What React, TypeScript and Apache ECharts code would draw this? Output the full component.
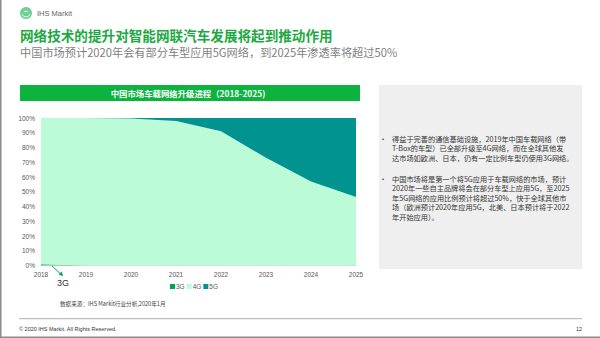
import React, { useEffect, useRef } from "react";
import * as echarts from "echarts";

const years = ["2018", "2019", "2020", "2021", "2022", "2023", "2024", "2025"];
const share3G = [0.8, 0, 0, 0, 0, 0, 0, 0];
const share4G = [99.2, 100, 99.6, 98, 91, 73, 57, 46.5];
const share5G = [0, 0, 0.4, 2, 9, 27, 43, 53.5];
const seriesNames = ["3G", "4G", "5G"];
const seriesColors = ["#00a651", "#bbfbd8", "#009390"];

const titleText = "网络技术的提升对智能网联汽车发展将起到推动作用";
const subtitleText = "中国市场预计2020年会有部分车型应用5G网络，到2025年渗透率将超过50%";
const chartTitle = "中国市场车载网络升级进程（2018-2025)";
const bullet1 = [
  "得益于完善的通信基础设施，2019年中国车载网络（带",
  "T-Box的车型）已全部升级至4G网络，而在全球其他发",
  "达市场如欧洲、日本，仍有一定比例车型仍使用3G网络。",
];
const bullet2 = [
  "中国市场将是第一个将5G应用于车载网络的市场，预计",
  "2020年一些自主品牌将会在部分车型上应用5G，至2025",
  "年5G网络的应用比例预计将超过50%，快于全球其他市",
  "场（欧洲预计2020年应用5G，北美、日本预计将于2022",
  "年开始应用）。",
];
const sourceText = "数据来源：IHS Markit行业分析,2020年1月";
const footerText = "© 2020 IHS Markit. All Rights Reserved.";
const pageNo = "12";

const CJK = "'Noto Sans CJK SC', 'Noto Sans', sans-serif";
const LAT = "'Liberation Sans', Arial, sans-serif";

export default function App() {
  const ref = useRef<HTMLDivElement>(null);
  useEffect(() => {
    if (!ref.current) return;
    const chart = echarts.init(ref.current, null, { renderer: "svg" });
    const data = [share3G, share4G, share5G];

    const textEl = (x: number, y: number, text: string, style: any) => ({
      type: "text",
      x,
      y,
      silent: true,
      style: { text, textVerticalAlign: "middle", ...style },
    });

    const lineStep = 9.6;
    const blockText = (lines: string[], yFirst: number) => ({
      type: "text",
      x: 392,
      y: yFirst - lineStep / 2,
      silent: true,
      style: {
        text: lines.join("\n"),
        fill: "#333",
        fontSize: 7.2,
        lineHeight: lineStep,
        fontFamily: CJK,
        textVerticalAlign: "top",
      },
    });

    chart.setOption({
      animation: false,
      backgroundColor: "#ffffff",
      grid: { left: 41, right: 244, top: 118, bottom: 72.5, containLabel: false },
      legend: {
        data: seriesNames,
        left: 170,
        top: 283,
        icon: "rect",
        itemWidth: 5,
        itemHeight: 5,
        itemGap: 2,
        padding: 0,
        textStyle: { fontSize: 6.5, color: "#595959", fontFamily: LAT, padding: [0, 0, 0, -4] },
      },
      xAxis: {
        type: "category",
        data: years,
        boundaryGap: false,
        axisLine: { show: true, lineStyle: { color: "#d9d9d9" } },
        axisTick: { show: false },
        axisLabel: { color: "#595959", fontSize: 6.5, fontFamily: LAT, margin: 5 },
      },
      yAxis: {
        type: "value",
        min: 0,
        max: 100,
        interval: 10,
        axisLine: { show: false },
        axisTick: { show: false },
        splitLine: { show: false },
        axisLabel: { color: "#595959", fontSize: 6.5, fontFamily: LAT, margin: 6, formatter: "{value}%" },
      },
      series: seriesNames.map((name, i) => ({
        name,
        type: "line",
        stack: "total",
        data: data[i],
        showSymbol: false,
        symbol: "none",
        lineStyle: { width: 0, color: seriesColors[i] },
        itemStyle: { color: seriesColors[i] },
        areaStyle: { color: seriesColors[i], opacity: 1 },
        z: 2,
      })),
      graphic: {
        elements: [
          // frame borders
          { type: "rect", shape: { x: 0, y: 0, width: 1.5, height: 338 }, style: { fill: "#8c8c8c" }, silent: true },
          { type: "rect", shape: { x: 0, y: 336.5, width: 600, height: 1.5 }, style: { fill: "#8c8c8c" }, silent: true },
          // logo
          { type: "circle", shape: { cx: 26, cy: 13, r: 6 }, style: { fill: "#6fcf97" }, silent: true },
          { type: "arc", shape: { cx: 26, cy: 13, r: 4, startAngle: 0.3, endAngle: 2.8 }, style: { stroke: "#ffffff", lineWidth: 0.8, fill: "none" }, silent: true },
          { type: "arc", shape: { cx: 26, cy: 13, r: 2, startAngle: 3.5, endAngle: 6 }, style: { stroke: "#ffffff", lineWidth: 0.8, fill: "none" }, silent: true },
          textEl(37, 13, "IHS Markit", { fill: "#666", fontSize: 7.5, fontFamily: LAT }),
          // titles
          textEl(20, 35, titleText, { fill: "#1ba941", fontSize: 13.6, fontWeight: "bold", fontFamily: CJK }),
          textEl(20, 52, subtitleText, { fill: "#7f7f7f", fontSize: 11.2, fontFamily: CJK }),
          // chart title bar
          { type: "rect", shape: { x: 20, y: 85, width: 340, height: 16 }, style: { fill: "#0cb33f" }, silent: true },
          textEl(188, 93, chartTitle, { fill: "#ffffff", fontSize: 8.4, fontWeight: "bold", fontFamily: CJK, textAlign: "center" }),
          // area labels
          textEl(197, 195, "4G", { fill: "#222", fontSize: 11, fontFamily: LAT, textAlign: "center" }),
          textEl(316, 142, "5G", { fill: "#ffffff", fontSize: 11, fontFamily: LAT, textAlign: "center" }),
          // 3G callout
          { type: "line", shape: { x1: 51.5, y1: 265.5, x2: 61, y2: 274.3 }, style: { stroke: "#00a651", lineWidth: 1 }, silent: true },
          { type: "polygon", shape: { points: [[63.2, 276.3], [58.6, 274.6], [61.6, 271.5]] }, style: { fill: "#00a651" }, silent: true },
          textEl(63, 283, "3G", { fill: "#333", fontSize: 9, fontFamily: LAT, textAlign: "center" }),
          // source
          textEl(60, 303.5, sourceText, { fill: "#444", fontSize: 5.6, fontFamily: CJK }),
          // right box
          { type: "rect", shape: { x: 379, y: 85, width: 203, height: 184 }, style: { fill: "#efefef" }, silent: true },
          blockText(bullet1, 138.5),
          blockText(bullet2, 178.5),
          textEl(382, 138.5, "•", { fill: "#333", fontSize: 6, fontFamily: LAT }),
          textEl(382, 178.5, "•", { fill: "#333", fontSize: 6, fontFamily: LAT }),
          // footer
          { type: "line", shape: { x1: 19, y1: 318.7, x2: 582, y2: 318.7 }, style: { stroke: "#b0b0b0", lineWidth: 1 }, silent: true },
          textEl(19, 329, footerText, { fill: "#333", fontSize: 5.5, fontFamily: LAT }),
          textEl(582, 329, pageNo, { fill: "#333", fontSize: 5.5, fontFamily: LAT, textAlign: "right" }),
        ],
      },
    });
    return () => chart.dispose();
  }, []);
  return <div ref={ref} style={{ position: "absolute", left: 0, top: 0, width: 600, height: 338 }} />;
}
